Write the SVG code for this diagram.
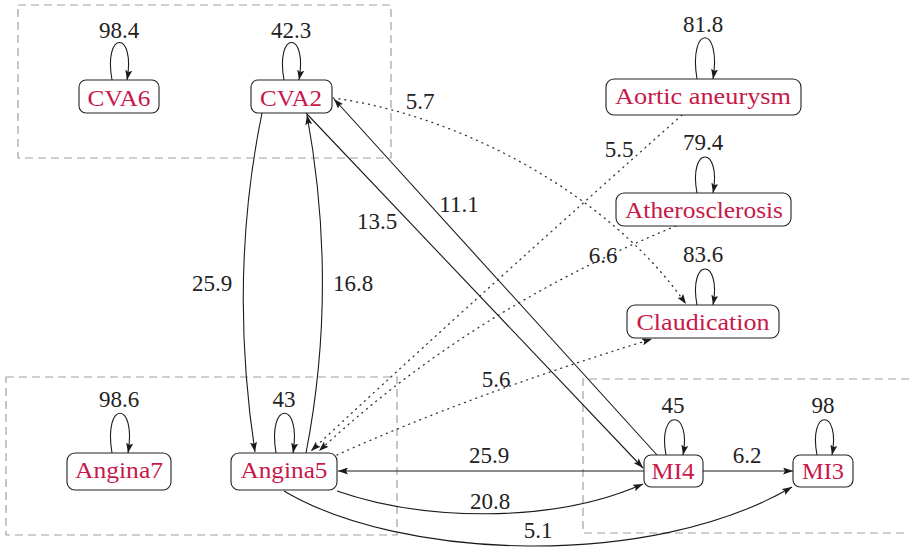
<svg xmlns="http://www.w3.org/2000/svg" width="909" height="548" viewBox="0 0 909 548">
<defs>
<marker id="ah" viewBox="0 0 10 7" markerWidth="10" markerHeight="7" refX="10" refY="3.5" orient="auto" markerUnits="userSpaceOnUse">
<path d="M0,0 L10,3.5 L0,7 L2,3.5 z" fill="#1a1a1a"/>
</marker>
<style>
text{font-family:"Times New Roman","Liberation Serif",Tinos,"DejaVu Serif",serif}
.grp{fill:none;stroke:#a0a0a0;stroke-width:1.2;stroke-dasharray:8 5}
.box{fill:#fff;stroke:#222;stroke-width:1.1}
.nl{font-size:24px;fill:#c8184a;text-anchor:middle}
.el{font-size:23px;fill:#222;text-anchor:middle}
.e{fill:none;stroke:#1a1a1a;stroke-width:1.1;marker-end:url(#ah)}
.d{fill:none;stroke:#333;stroke-width:1.3;stroke-dasharray:1 5;stroke-linecap:round;marker-end:url(#ah)}
</style>
</defs>
<rect width="909" height="548" fill="#fff"/>
<g id="groups">
<rect class="grp" x="18" y="5" width="373" height="153"/>
<rect class="grp" x="6" y="377" width="391" height="158"/>
<path class="grp" d="M909,379 H583 V533 H909"/>
</g>
<g id="connectors">
<path class="e" d="M262,113 C238,230 238,340 255,452"/>
<path class="e" d="M306,453 C328,340 328,230 307,115"/>
<path class="e" d="M306,113 L643,468"/>
<path class="e" d="M657,455 L334,99"/>
<path class="d" d="M333,98 C460,115 610,195 686,304"/>
<path class="d" d="M682,115 Q440,330 311,451"/>
<path class="d" d="M676,226 Q470,310 319,451"/>
<path class="d" d="M337,455 Q470,395 652,339"/>
<path class="e" d="M644,471 L338,471"/>
<path class="e" d="M337,491 C420,520 550,525 643,484"/>
<path class="e" d="M284,491 C400,560 650,570 792,487"/>
<path class="e" d="M703,471 L793,471"/>
<path class="e" d="M112,80 C103,30 136,30 127,80"/>
<path class="e" d="M284,80 C275,30 308,30 299,80"/>
<path class="e" d="M697,79 C688,24 722,24 713,79"/>
<path class="e" d="M697,193 C688,145 722,145 713,193"/>
<path class="e" d="M697,305 C688,257 722,257 713,305"/>
<path class="e" d="M112,453 C103,400 137,400 128,453"/>
<path class="e" d="M276,453 C267,400 302,400 293,453"/>
<path class="e" d="M666,455 C657,408 692,408 683,455"/>
<path class="e" d="M817,455 C808,408 841,408 832,455"/>
<text class="el" x="119" y="38">98.4</text>
<text class="el" x="291" y="38">42.3</text>
<text class="el" x="703" y="32">81.8</text>
<text class="el" x="703" y="150">79.4</text>
<text class="el" x="703" y="262">83.6</text>
<text class="el" x="119" y="407">98.6</text>
<text class="el" x="284" y="407">43</text>
<text class="el" x="673" y="413">45</text>
<text class="el" x="823" y="413">98</text>
<text class="el" x="747" y="463">6.2</text>
<text class="el" x="489" y="463">25.9</text>
<text class="el" x="490" y="509">20.8</text>
<text class="el" x="538" y="538">5.1</text>
<text class="el" x="496" y="387">5.6</text>
<text class="el" x="212" y="291">25.9</text>
<text class="el" x="353" y="291">16.8</text>
<text class="el" x="377" y="229">13.5</text>
<text class="el" x="459" y="212">11.1</text>
<text class="el" x="420" y="109">5.7</text>
<text class="el" x="619" y="157">5.5</text>
<text class="el" x="603" y="263">6.6</text>
</g>
<g id="nodes">
<g id="CVA6"><rect class="box" x="79" y="80" width="80" height="33" rx="7"/><text class="nl" x="119" y="106" textLength="63" lengthAdjust="spacingAndGlyphs">CVA6</text></g>
<g id="CVA2"><rect class="box" x="251" y="80" width="81" height="33" rx="7"/><text class="nl" x="291" y="106" textLength="62" lengthAdjust="spacingAndGlyphs">CVA2</text></g>
<g id="AorticAneurysm"><rect class="box" x="606" y="79" width="195" height="36" rx="8"/><text class="nl" x="703" y="104" textLength="176" lengthAdjust="spacingAndGlyphs">Aortic aneurysm</text></g>
<g id="Atherosclerosis"><rect class="box" x="616" y="193" width="175" height="33" rx="8"/><text class="nl" x="704" y="218" textLength="158" lengthAdjust="spacingAndGlyphs">Atherosclerosis</text></g>
<g id="Claudication"><rect class="box" x="627" y="305" width="152" height="33" rx="8"/><text class="nl" x="703" y="330" textLength="133" lengthAdjust="spacingAndGlyphs">Claudication</text></g>
<g id="Angina7"><rect class="box" x="67" y="453" width="104" height="37" rx="8"/><text class="nl" x="119" y="478" textLength="88" lengthAdjust="spacingAndGlyphs">Angina7</text></g>
<g id="Angina5"><rect class="box" x="231" y="453" width="106" height="37" rx="8"/><text class="nl" x="284" y="478" textLength="87" lengthAdjust="spacingAndGlyphs">Angina5</text></g>
<g id="MI4"><rect class="box" x="644" y="455" width="59" height="32" rx="7"/><text class="nl" x="673" y="479" textLength="43" lengthAdjust="spacingAndGlyphs">MI4</text></g>
<g id="MI3"><rect class="box" x="793" y="455" width="60" height="32" rx="7"/><text class="nl" x="823" y="479" textLength="42" lengthAdjust="spacingAndGlyphs">MI3</text></g>
</g>
</svg>
